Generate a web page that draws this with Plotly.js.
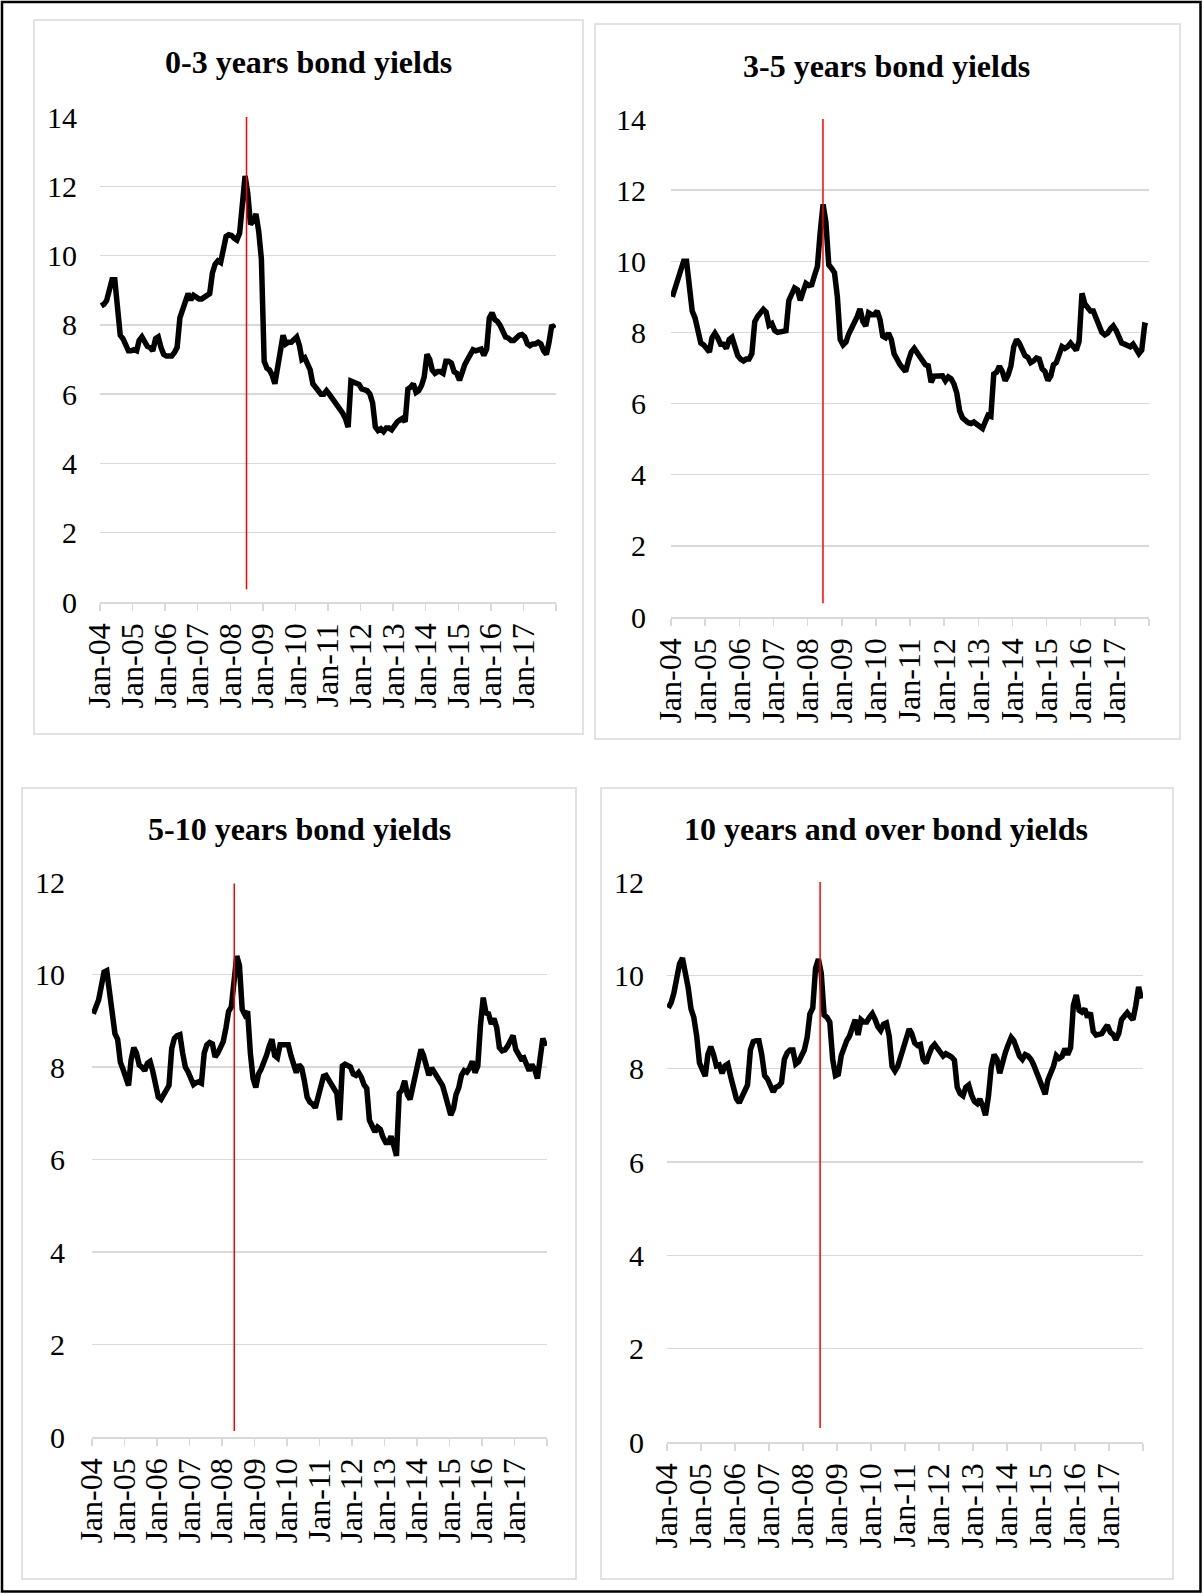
<!DOCTYPE html>
<html>
<head>
<meta charset="utf-8">
<script src="https://cdn.plot.ly/plotly-3.0.1.min.js"></script>
<style>
  html, body { margin: 0; padding: 0; background: #ffffff; }
  #chart { width: 1203px; height: 1594px; }
</style>
</head>
<body>
<div id="chart"></div>
<script>
// ---- Data (monthly, Jan-2004 .. Dec-2017) ----
const startYear = 2004;
const endYear = 2017;

const titles = [
  "0-3 years bond yields",
  "3-5 years bond yields",
  "5-10 years bond yields",
  "10 years and over bond yields"
];

const yields03 = [
  8.55, 8.6, 8.7, 9.1, 9.3, 9.3, 8.6, 7.7, 7.6, 7.4, 7.25, 7.25,
  7.28, 7.25, 7.55, 7.65, 7.5, 7.38, 7.35, 7.25, 7.6, 7.65, 7.35, 7.15,
  7.1, 7.08, 7.1, 7.2, 7.35, 8.2, 8.45, 8.7, 8.9, 8.72, 8.85, 8.8,
  8.75, 8.75, 8.78, 8.85, 8.9, 9.5, 9.75, 9.85, 9.8, 10.2, 10.55, 10.6,
  10.58, 10.5, 10.45, 10.65, 11.3, 12.3, 11.8, 10.9, 11.0, 11.2, 10.7, 9.9,
  6.95, 6.75, 6.7, 6.55, 6.3, 6.85, 7.4, 7.7, 7.45, 7.5, 7.5, 7.6,
  7.65, 7.4, 7.0, 7.05, 6.9, 6.7, 6.3, 6.2, 6.1, 6.0, 6.0, 6.1,
  6.0, 5.9, 5.78, 5.65, 5.55, 5.45, 5.3, 5.05, 6.38, 6.35, 6.32, 6.28,
  6.15, 6.12, 6.1, 6.0, 5.75, 5.05, 4.95, 5.0, 4.92, 5.02, 5.02, 4.97,
  5.1, 5.2, 5.25, 5.3, 5.2, 6.15, 6.2, 6.3, 6.05, 6.1, 6.25, 6.5,
  7.15, 7.0, 6.7, 6.6, 6.65, 6.65, 6.6, 6.95, 6.95, 6.9, 6.65, 6.6,
  6.4, 6.7, 6.85, 7.0, 7.15, 7.28, 7.25, 7.28, 7.3, 7.12, 7.3, 8.2,
  8.35, 8.15, 8.1, 7.98, 7.8, 7.65, 7.62, 7.55, 7.55, 7.65, 7.7, 7.72,
  7.65, 7.45, 7.4, 7.45, 7.45, 7.5, 7.45, 7.25, 7.15, 7.5, 8.0, 7.9
];

const yields35 = [
  9.0, 9.25, 9.5, 9.8, 10.0, 10.0, 9.35, 8.6, 8.4, 8.05, 7.7, 7.65,
  7.55, 7.45, 7.85, 7.98, 7.85, 7.67, 7.67, 7.55, 7.8, 7.86, 7.6, 7.35,
  7.25, 7.2, 7.25, 7.25, 7.4, 8.3, 8.45, 8.55, 8.65, 8.57, 8.2, 8.25,
  8.05, 8.0, 8.02, 8.05, 8.05, 8.9, 9.1, 9.25, 9.2, 8.9, 9.15, 9.38,
  9.32, 9.34, 9.6, 9.85, 10.8, 11.6, 11.1, 9.9, 9.8, 9.68, 9.0, 7.8,
  7.65, 7.73, 7.95, 8.1, 8.25, 8.44, 8.66, 8.31, 8.18, 8.55, 8.5, 8.5,
  8.6, 8.35, 7.9, 7.85, 7.98, 7.8, 7.4, 7.2, 7.1, 7.0, 6.9, 7.2,
  7.45, 7.55, 7.45, 7.3, 7.2, 7.09, 7.06, 6.6, 6.77, 6.77, 6.8, 6.78,
  6.64, 6.75, 6.7, 6.55, 6.3, 5.8, 5.6, 5.5, 5.46, 5.44, 5.48, 5.42,
  5.38, 5.3, 5.48, 5.67, 5.64, 6.83, 6.88, 7.05, 6.9, 6.64, 6.8, 7.05,
  7.6, 7.8, 7.7, 7.55, 7.35, 7.3, 7.15, 7.2, 7.28, 7.25, 6.98, 6.9,
  6.65, 6.77, 7.09, 7.15, 7.35, 7.6, 7.55, 7.6, 7.7, 7.6, 7.5, 7.75,
  9.1, 8.8, 8.72, 8.6, 8.6, 8.4, 8.15, 8.0, 7.93, 7.98, 8.1, 8.18,
  8.05, 7.85, 7.7, 7.67, 7.65, 7.6, 7.67, 7.55, 7.4, 7.5, 8.2, 8.18
];

const yields510 = [
  9.15, 9.3, 9.45, 9.75, 10.05, 10.08, 9.6, 9.05, 8.72, 8.6, 8.1, 7.95,
  7.75, 7.6, 8.15, 8.42, 8.3, 8.04, 8.0, 7.92, 8.08, 8.12, 7.9, 7.55,
  7.35, 7.3, 7.4, 7.45, 7.6, 8.4, 8.62, 8.68, 8.7, 8.31, 8.0, 7.9,
  7.78, 7.62, 7.66, 7.68, 7.65, 8.3, 8.48, 8.53, 8.5, 8.22, 8.3, 8.46,
  8.55, 8.85, 9.2, 9.3, 9.86, 10.4, 10.2, 9.25, 9.13, 9.2, 8.3, 7.75,
  7.56, 7.85, 7.95, 8.08, 8.25, 8.45, 8.6, 8.25, 8.2, 8.48, 8.48, 8.5,
  8.48, 8.24, 8.08, 7.88, 8.05, 7.98, 7.7, 7.35, 7.24, 7.2, 7.12, 7.35,
  7.62, 7.8, 7.82, 7.72, 7.58, 7.48, 7.43, 6.85, 8.02, 8.06, 8.02, 8.0,
  7.85, 7.82, 7.88, 7.78, 7.62, 7.54, 6.85, 6.7, 6.6, 6.7, 6.65, 6.48,
  6.37, 6.37, 6.5, 6.3, 6.08, 7.43, 7.5, 7.7, 7.4, 7.3, 7.6, 7.8,
  8.15, 8.38, 8.25, 8.05, 7.82, 7.98, 7.88, 7.76, 7.66, 7.6, 7.39, 7.2,
  6.96, 7.1, 7.4, 7.55, 7.82, 7.92, 7.89, 7.98, 8.12, 7.88, 8.02, 8.9,
  9.5, 9.17, 9.15, 8.93, 9.05, 8.85, 8.42, 8.35, 8.37, 8.45, 8.55, 8.68,
  8.38, 8.25, 8.18, 8.2, 8.05, 7.92, 8.05, 7.95, 7.75, 8.2, 8.62, 8.45
];

const yields10plus = [
  9.3, 9.42, 9.62, 9.9, 10.25, 10.37, 10.08, 9.74, 9.28, 9.1, 8.7, 8.12,
  7.98, 7.84, 8.3, 8.47, 8.3, 8.06, 8.08, 7.9, 8.06, 8.1, 7.83, 7.55,
  7.36, 7.27, 7.4, 7.48, 7.65, 8.4, 8.58, 8.6, 8.6, 8.3, 7.85, 7.78,
  7.62, 7.5, 7.6, 7.63, 7.7, 8.2, 8.34, 8.4, 8.4, 8.1, 8.15, 8.27,
  8.4, 8.67, 9.17, 9.3, 10.15, 10.35, 10.05, 9.15, 9.1, 9.0, 8.2, 7.85,
  7.88, 8.28, 8.45, 8.6, 8.7, 8.85, 9.05, 8.72, 9.05, 9.0, 9.0, 9.1,
  9.18, 9.05, 8.9, 8.82, 8.95, 8.98, 8.7, 8.05, 7.95, 8.05, 8.25, 8.45,
  8.58, 8.85, 8.75, 8.55, 8.5, 8.52, 8.2, 8.12, 8.3, 8.45, 8.52, 8.45,
  8.35, 8.27, 8.32, 8.3, 8.25, 8.18, 7.6, 7.47, 7.42, 7.6, 7.65, 7.44,
  7.3, 7.25, 7.35, 7.2, 7.0, 7.4, 8.02, 8.3, 8.2, 7.9, 8.17, 8.35,
  8.52, 8.67, 8.6, 8.45, 8.27, 8.2, 8.3, 8.27, 8.2, 8.08, 7.92, 7.78,
  7.6, 7.45, 7.75, 7.88, 8.05, 8.28, 8.22, 8.26, 8.43, 8.3, 8.45, 9.36,
  9.58, 9.25, 9.21, 9.28, 9.1, 9.2, 8.8, 8.72, 8.74, 8.75, 8.85, 8.93,
  8.78, 8.73, 8.62, 8.75, 9.05, 9.13, 9.2, 9.12, 9.05, 9.35, 9.75, 9.5
];

// Date of the vertical red marker in each panel (mid-2008)
const markerDates = ["2008-07-01", "2008-06-14", "2008-05-18", "2008-07-03"];
const markerSpan = [[0.37, 14.16], [0.39, 14.39], [0.13, 11.97], [0.3, 12.25]];
const yMax = [14, 14, 12, 12];

// ---- Category axis helpers (month slots, tick labels) ----
const months = [];
for (let y = startYear; y <= endYear; y++) {
  for (let m = 1; m <= 12; m++) {
    months.push(y + "-" + String(m).padStart(2, "0") + "-15");
  }
}
const tickVals = [];
const tickText = [];
for (let y = startYear; y <= endYear + 1; y++) {
  tickVals.push(y + "-01-01");
  tickText.push(y <= endYear ? "Jan-" + String(y % 100).padStart(2, "0") : "");
}

// ---- Layout geometry (pixels) ----
const W = 1203, H = 1594;
const fx = px => px / W;
const fy = py => 1 - py / H;

const plots = [
  { x0: 100, x1: 556, yTop: 117, yBot: 602, title: [308, 62], box: [34, 20, 583, 734], standoff: 22 },
  { x0: 671, x1: 1149, yTop: 119, yBot: 617, title: [886, 66], box: [595, 24, 1180, 739], standoff: 24 },
  { x0: 92, x1: 547, yTop: 882, yBot: 1437, title: [299, 829], box: [22, 788, 576, 1579], standoff: 26 },
  { x0: 667, x1: 1143, yTop: 882, yBot: 1442, title: [886, 829], box: [601, 788, 1173, 1579], standoff: 22 }
];

const series = [yields03, yields35, yields510, yields10plus];
const FONT = "Liberation Serif, Times New Roman, serif";

const data = [];
const layout = {
  width: W, height: H,
  margin: { l: 0, r: 0, t: 0, b: 0 },
  paper_bgcolor: "#ffffff",
  plot_bgcolor: "rgba(0,0,0,0)",
  showlegend: false,
  annotations: [],
  shapes: []
};

plots.forEach((p, i) => {
  const n = i === 0 ? "" : String(i + 1);
  data.push({
    type: "scatter",
    mode: "lines",
    x: months,
    y: series[i],
    xaxis: "x" + n,
    yaxis: "y" + n,
    line: { color: "#000000", width: 5.5, shape: "linear" },
    hoverinfo: "skip"
  });

  layout["xaxis" + n] = {
    domain: [fx(p.x0), fx(p.x1)],
    anchor: "y" + n,
    type: "date",
    range: ["2004-01-01", "2018-01-01"],
    tickmode: "array",
    tickvals: tickVals,
    ticktext: tickText,
    tickangle: -90,
    ticks: "outside",
    ticklen: 7,
    tickwidth: 1.5,
    tickcolor: "#d9d9d9",
    showline: true,
    linecolor: "#d9d9d9",
    linewidth: 1.5,
    showgrid: false,
    zeroline: false,
    tickfont: { family: FONT, size: 32, color: "#000000" },
    fixedrange: true
  };
  layout["yaxis" + n] = {
    domain: [fy(p.yBot), fy(p.yTop)],
    anchor: "x" + n,
    range: [0, yMax[i]],
    tickmode: "linear",
    tick0: 0,
    dtick: 2,
    showgrid: true,
    gridcolor: "#d9d9d9",
    gridwidth: 1.5,
    showline: false,
    zeroline: false,
    ticks: "",
    ticklabelstandoff: p.standoff,
    tickfont: { family: FONT, size: 30, color: "#000000" },
    fixedrange: true
  };

  layout.annotations.push({
    xref: "paper", yref: "paper",
    x: fx(p.title[0]), y: fy(p.title[1]),
    xanchor: "center", yanchor: "middle",
    text: "<b>" + titles[i] + "</b>",
    showarrow: false,
    font: { family: FONT, size: 32, color: "#000000" }
  });

  layout.shapes.push({
    type: "rect", xref: "paper", yref: "paper",
    x0: fx(p.box[0]), x1: fx(p.box[2]), y0: fy(p.box[3]), y1: fy(p.box[1]),
    line: { color: "#d9d9d9", width: 1.5 },
    fillcolor: "rgba(0,0,0,0)",
    layer: "below"
  });

  layout.shapes.push({
    type: "line", xref: "x" + n, yref: "y" + n,
    x0: markerDates[i], x1: markerDates[i],
    y0: markerSpan[i][0], y1: markerSpan[i][1],
    line: { color: "#ff0000", width: 1.5 },
    layer: "above"
  });
});

// outer frame
layout.shapes.push({
  type: "rect", xref: "paper", yref: "paper",
  x0: fx(2), x1: fx(1200.5), y0: fy(1591.5), y1: fy(2),
  line: { color: "#000000", width: 2.5 },
  fillcolor: "rgba(0,0,0,0)"
});

Plotly.newPlot("chart", data, layout, { displayModeBar: false, staticPlot: true });
</script>
</body>
</html>
